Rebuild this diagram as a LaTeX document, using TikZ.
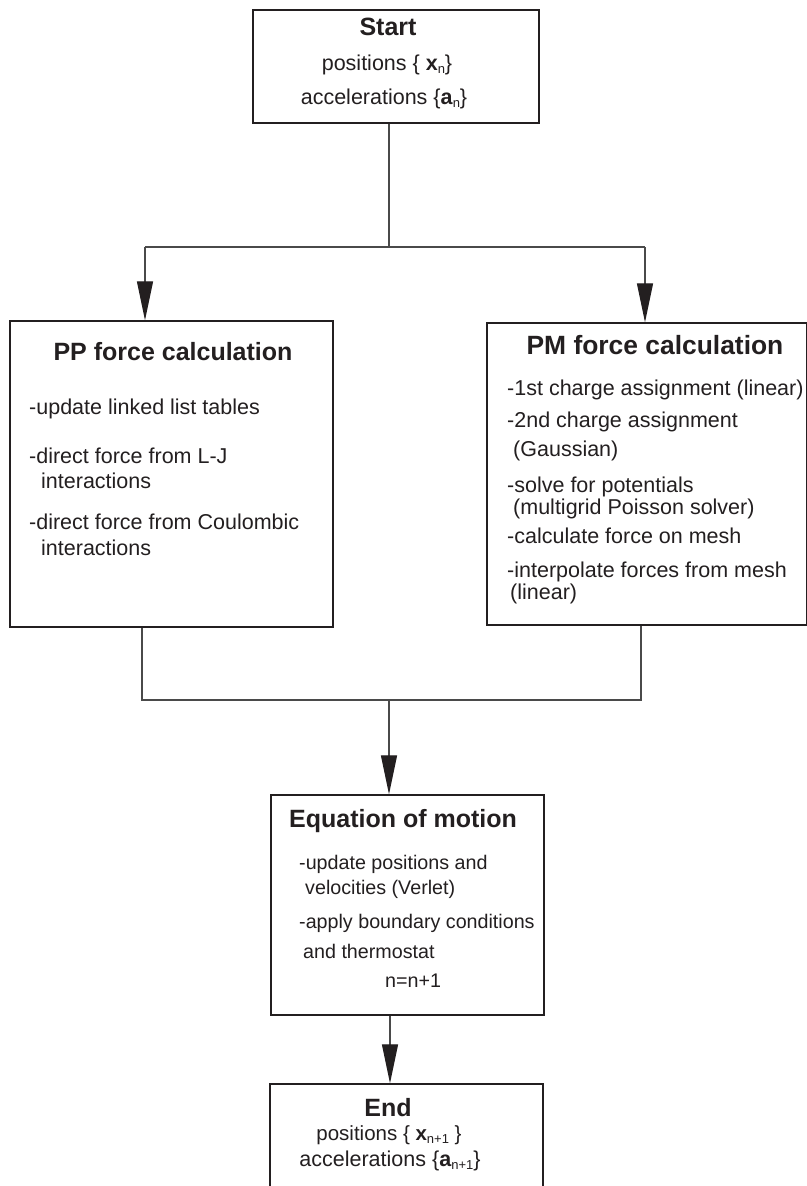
\documentclass[tikz,border=0pt]{standalone}
\usepackage{fontspec}
\setmainfont{Liberation Sans}
\usetikzlibrary{arrows.meta}
\definecolor{ink}{HTML}{231F20}
\definecolor{wire}{HTML}{4A4A4A}
\newcommand\lowsub[1]{\raisebox{-3pt}{\fontsize{13}{13}\selectfont #1}}
\begin{document}
\begin{tikzpicture}[x=1pt,y=-1pt,
  box/.style={draw=ink, line width=1.4pt, rectangle, inner sep=0pt},
  conn/.style={draw=wire, line width=1.3pt},
  arr/.style={conn, -{Triangle[length=39pt,width=16pt,color=ink,fill=ink]}},
  ttl/.style={anchor=base, inner sep=0pt, font=\fontsize{25}{30}\selectfont\bfseries, text=ink},
  bigttl/.style={ttl, font=\fontsize{26.4}{30}\selectfont\bfseries},
  txt/.style={anchor=base west, inner sep=0pt, font=\fontsize{21.5}{26}\selectfont, text=ink},
  stxt/.style={anchor=base west, inner sep=0pt, font=\fontsize{19.7}{24}\selectfont, text=ink},
  ctxt/.style={anchor=base, inner sep=0pt, font=\fontsize{21.5}{26}\selectfont, text=ink},
  sctxt/.style={anchor=base, inner sep=0pt, font=\fontsize{20.5}{24}\selectfont, text=ink}]
\useasboundingbox (0,0) rectangle (806,1186);
\fill[white] (0,0) rectangle (806,1186);
% boxes
\node[box, minimum width=286pt, minimum height=113pt] (start) at (396,66.5) {};
\node[box, minimum width=323pt, minimum height=306pt] (pp) at (171.5,474) {};
\node[box, minimum width=320pt, minimum height=302pt] (pm) at (647,474) {};
\node[box, minimum width=273pt, minimum height=220pt] (eom) at (407.5,905) {};
\node[box, minimum width=273pt, minimum height=116pt] (end) at (406.5,1142) {};
% start text
\node[ttl] (t0) at (388,35) {Start};
\node[ctxt] (t0a) at (387,70) {positions \{ \textbf{x}\lowsub{n}\}};
\node[ctxt] (t0b) at (384,104) {accelerations \{\textbf{a}\lowsub{n}\}};
% PP text
\node[ttl] (t1) at (173,360) {PP force calculation};
\node[txt] (p1) at (29,414) {-update linked list tables};
\node[txt] (p2) at (29,463) {-direct force from L-J};
\node[txt] (p3) at (41,488) {interactions};
\node[txt] (p4) at (29,529) {-direct force from Coulombic};
\node[txt] (p5) at (41,555) {interactions};
% PM text
\node[bigttl] (t2) at (655,354) {PM force calculation};
\node[txt] (m1) at (507,395.5) {-1st charge assignment (linear)};
\node[txt] (m2) at (507,427.5) {-2nd charge assignment};
\node[txt] (m3) at (513,456.5) {(Gaussian)};
\node[txt] (m4) at (507,492.5) {-solve for potentials};
\node[txt] (m5) at (513,514.5) {(multigrid Poisson solver)};
\node[txt] (m6) at (507,543.5) {-calculate force on mesh};
\node[txt] (m7) at (507,577.5) {-interpolate forces from mesh};
\node[txt] (m8) at (510,599.5) {(linear)};
% EoM text
\node[ttl] (t3) at (403,827) {Equation of motion};
\node[stxt] (e1) at (299,869) {-update positions and};
\node[stxt] (e2) at (305,894) {velocities (Verlet)};
\node[stxt] (e3) at (299,928) {-apply boundary conditions};
\node[stxt] (e4) at (303,958) {and thermostat};
\node[stxt] (e5) at (385,987) {n=n+1};
% End text
\node[ttl] (t4) at (388,1116) {End};
\node[sctxt] (t4a) at (389,1140) {positions \{ \textbf{x}\lowsub{n+1} \}};
\node[ctxt] (t4b) at (390,1166) {accelerations \{\textbf{a}\lowsub{n+1}\}};
% connectors
\coordinate (jt) at (389,247);
\coordinate (jl) at (145,247);
\coordinate (jr) at (645,247);
\draw[conn] (start.south -| jt) -- (jt);
\draw[conn] (jl) -- (jr);
\draw[arr] (jl) -- (jl |- pp.north);
\draw[arr] (jr) -- (jr |- pm.north);
\coordinate (bl) at (142,700);
\coordinate (br) at (641,700);
\coordinate (bm) at (389,700);
\draw[conn] (pp.south -| bl) -- (bl) -- (br) -- (pm.south -| br);
\draw[arr] (bm) -- (bm |- eom.north);
\coordinate (eb) at (390,1050);
\draw[arr] (eom.south -| eb) -- (end.north -| eb);
\end{tikzpicture}
\end{document}
